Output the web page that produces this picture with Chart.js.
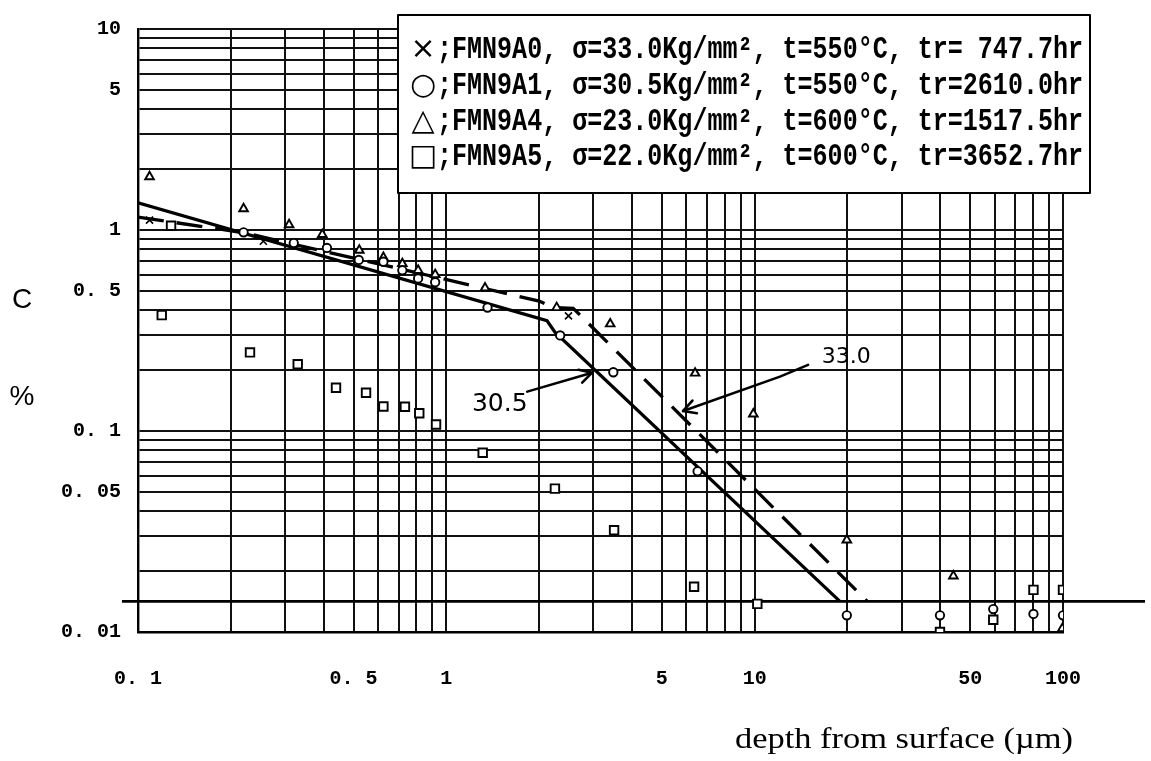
<!DOCTYPE html>
<html><head><meta charset="utf-8">
<script src="https://cdn.jsdelivr.net/npm/chart.js@4.4.0/dist/chart.umd.min.js"></script>
<style>html,body{margin:0;padding:0;background:#fff;}#wrap{width:1151px;height:761px;position:relative;}</style>
</head><body><div id="wrap"><canvas id="c" width="1151" height="761"></canvas></div>
<script>
// ---- data ----
const crossX = [0.109, 0.255, 2.49];
const crossY = [1.12, 0.88, 0.374];
const circleX = [0.22, 0.32, 0.41, 0.52, 0.625, 0.72, 0.81, 0.92, 1.36, 2.34, 3.48, 6.53, 19.9, 39.9, 59.4, 80.2, 100];
const circleY = [0.974, 0.861, 0.814, 0.71, 0.695, 0.63, 0.574, 0.55, 0.411, 0.299, 0.196, 0.063, 0.0121, 0.0121, 0.0130, 0.0123, 0.0121];
const triangleX = [0.109, 0.22, 0.309, 0.396, 0.522, 0.625, 0.72, 0.81, 0.92, 1.335, 2.28, 3.40, 6.41, 9.90, 19.9, 44.1, 99.5];
const triangleY = [1.84, 1.276, 1.062, 0.949, 0.793, 0.73, 0.68, 0.63, 0.60, 0.515, 0.411, 0.341, 0.194, 0.1216, 0.0287, 0.019, 0.0104];
const squareX = [0.1194, 0.128, 0.2308, 0.3296, 0.4387, 0.549, 0.625, 0.734, 0.817, 0.926, 1.312, 2.25, 3.50, 6.36, 10.2, 39.9, 59.4, 80.2, 100];
const squareY = [0.377, 1.05, 0.246, 0.215, 0.164, 0.155, 0.1325, 0.132, 0.1225, 0.1077, 0.078, 0.0517, 0.0321, 0.0168, 0.0138, 0.0100, 0.0115, 0.0162, 0.0162];
const fit305X = [0.1, 2.12, 2.25, 18.9];
const fit305Y = [1.365, 0.354, 0.31, 0.0142];
const fit330X = [0.1, 0.22, 2.0, 2.22, 2.58, 23.2];
const fit330Y = [1.16, 0.97, 0.443, 0.411, 0.408, 0.0142];
const baseX = [0.0887, 184.5];
const baseY = [0.0142, 0.0142];
const xTickValues = [0.1, 0.5, 1, 5, 10, 50, 100];
const xTickLabels = ['0. 1', '0. 5', '1', '5', '10', '50', '100'];
const yTickValues = [0.01, 0.05, 0.1, 0.5, 1, 5, 10];
const yTickLabels = ['0. 01', '0. 05', '0. 1', '0. 5', '1', '5', '10'];
const legendMarks = ['×', '○', '△', '□'];
const legendTexts = [
  ';FMN9A0, σ=33.0Kg/mm², t=550°C, tr= 747.7hr',
  ';FMN9A1, σ=30.5Kg/mm², t=550°C, tr=2610.0hr',
  ';FMN9A4, σ=23.0Kg/mm², t=600°C, tr=1517.5hr',
  ';FMN9A5, σ=22.0Kg/mm², t=600°C, tr=3652.7hr'
];
const noteTexts = ['30.5', '33.0'];
const noteX = [1.49, 19.8];
const noteY = [0.136, 0.233];
const arrow1X = [1.83, 2.97];
const arrow1Y = [0.157, 0.195];
const arrow2X = [14.9, 12.08, 5.86];
const arrow2Y = [0.2133, 0.1864, 0.1258];

function pts(xs, ys){ return xs.map((x,i)=>({x:x, y:ys[i]})); }
function logGrid(min, max){
  const out=[];
  for(let e=Math.round(Math.log10(min)); e<Math.round(Math.log10(max)); e++){
    for(let m=1;m<10;m++) out.push(parseFloat((m*Math.pow(10,e)).toPrecision(6)));
  }
  out.push(max); return out;
}
function labelFor(vals, labs, v){
  const i = vals.findIndex(t => Math.abs(t - v) / t < 1e-6);
  return i >= 0 ? labs[i] : '';
}

const overlay = {
  id: 'overlay',
  afterDraw(chart){
    const ctx = chart.ctx, xs = chart.scales.x, ys = chart.scales.y;
    const P = (x,y)=>[xs.getPixelForValue(x), ys.getPixelForValue(y)];
    ctx.save();
    ctx.fillStyle = '#000'; ctx.strokeStyle = '#000';
    // axis side labels
    ctx.font = "28px 'Liberation Sans', Arial, sans-serif";
    ctx.textAlign = 'center'; ctx.textBaseline = 'middle';
    ctx.fillText('C', 22, 300);
    ctx.fillText('%', 22, 397);
    // x title
    ctx.font = "30px 'Liberation Serif', 'Times New Roman', serif";
    const title = 'depth from surface (µm)';
    const tw = ctx.measureText(title).width;
    ctx.save(); ctx.translate(735, 740); ctx.scale(338 / tw, 1);
    ctx.textAlign = 'left'; ctx.fillText(title, 0, 0); ctx.restore();
    // annotations (hand-written notes)
    const noteSizes = [25, 22];
    noteTexts.forEach((t,i)=>{
      const p = P(noteX[i], noteY[i]);
      ctx.font = noteSizes[i] + "px 'DejaVu Sans', sans-serif";
      ctx.fillText(t, p[0], p[1]);
    });
    ctx.lineWidth = 2.6; ctx.lineCap = 'round'; ctx.lineJoin = 'round';
    function arrow(ax, ay){
      const p = ax.map((x,i)=>P(x, ay[i]));
      ctx.beginPath(); ctx.moveTo(p[0][0], p[0][1]);
      for(let i=1;i<p.length;i++) ctx.lineTo(p[i][0], p[i][1]);
      ctx.stroke();
      const a = p[p.length-1], b = p[p.length-2];
      const ang = Math.atan2(a[1]-b[1], a[0]-b[0]);
      ctx.beginPath();
      ctx.moveTo(a[0] - 14*Math.cos(ang-0.5), a[1] - 14*Math.sin(ang-0.5));
      ctx.lineTo(a[0], a[1]);
      ctx.lineTo(a[0] - 14*Math.cos(ang+0.5), a[1] - 14*Math.sin(ang+0.5));
      ctx.stroke();
    }
    arrow(arrow1X, arrow1Y);
    arrow(arrow2X, arrow2Y);
    // legend box
    const L = 398, T = 15, R = 1090, B = 193;
    ctx.fillStyle = '#fff'; ctx.fillRect(L, T, R-L, B-T);
    ctx.lineWidth = 2; ctx.strokeRect(L, T, R-L, B-T);
    ctx.fillStyle = '#000';
    const rowH = (B - T) / 5;
    legendTexts.forEach((t,i)=>{
      const cy = T + rowH*(i+1);
      ctx.font = "30px 'DejaVu Sans', sans-serif";
      ctx.textAlign = 'center';
      ctx.fillText(legendMarks[i], 423, cy);
      ctx.font = "bold 31px 'Liberation Mono', 'DejaVu Sans Mono', monospace";
      ctx.textAlign = 'left';
      const w = ctx.measureText(t).width;
      ctx.save(); ctx.translate(437, cy); ctx.scale(Math.min(1, 646 / w), 1);
      ctx.fillText(t, 0, 0); ctx.restore();
    });
    ctx.restore();
  }
};

const tickFont = {family: "'Liberation Mono', 'DejaVu Sans Mono', monospace", size: 20, weight: 'bold'};
const gridOpts = {color: '#111', lineWidth: 2, drawTicks: false};

new Chart(document.getElementById('c'), {
  type: 'scatter',
  data: { datasets: [
    {label: 'FMN9A0', data: pts(crossX, crossY), pointStyle: 'crossRot', pointRadius: 5, borderColor: '#000', borderWidth: 1.6, backgroundColor: '#000'},
    {label: 'FMN9A1', data: pts(circleX, circleY), pointStyle: 'circle', pointRadius: 4.2, borderColor: '#000', borderWidth: 1.9, backgroundColor: '#fff'},
    {label: 'FMN9A4', data: pts(triangleX, triangleY), pointStyle: 'triangle', pointRadius: 5, borderColor: '#000', borderWidth: 1.9, backgroundColor: '#fff'},
    {label: 'FMN9A5', data: pts(squareX, squareY), pointStyle: 'rect', pointRadius: 6, borderColor: '#000', borderWidth: 1.9, backgroundColor: '#fff'},
    {label: '30.5', data: pts(fit305X, fit305Y), showLine: true, pointRadius: 0, borderColor: '#000', borderWidth: 3.3, fill: false, tension: 0},
    {label: '33.0', data: pts(fit330X, fit330Y), showLine: true, pointRadius: 0, borderColor: '#000', borderWidth: 3.3, borderDash: [26, 13], fill: false, tension: 0},
    {label: 'base', data: pts(baseX, baseY), showLine: true, pointRadius: 0, borderColor: '#000', borderWidth: 2.6, fill: false, clip: false}
  ]},
  options: {
    responsive: false, devicePixelRatio: 1, animation: false,
    layout: {padding: {left: 0, right: 88, top: 18, bottom: 0}},
    plugins: {legend: {display: false}, tooltip: {enabled: false}},
    scales: {
      x: {
        type: 'logarithmic', min: 0.1, max: 100,
        afterBuildTicks: s => { s.ticks = logGrid(0.1, 100).map(v => ({value: v})); },
        afterFit: s => { s.height = 129; },
        grid: gridOpts,
        border: {display: true, color: '#000', width: 2.4},
        ticks: {autoSkip: false, maxRotation: 0, padding: 35, color: '#000', font: tickFont,
          callback: v => labelFor(xTickValues, xTickLabels, v)}
      },
      y: {
        type: 'logarithmic', min: 0.01, max: 10,
        afterBuildTicks: s => { s.ticks = logGrid(0.01, 10).map(v => ({value: v})); },
        afterFit: s => { s.width = 138; },
        grid: gridOpts,
        border: {display: true, color: '#000', width: 2.4},
        ticks: {autoSkip: false, padding: 17, color: '#000', font: tickFont,
          callback: v => labelFor(yTickValues, yTickLabels, v)}
      }
    }
  },
  plugins: [overlay]
});
</script></body></html>
